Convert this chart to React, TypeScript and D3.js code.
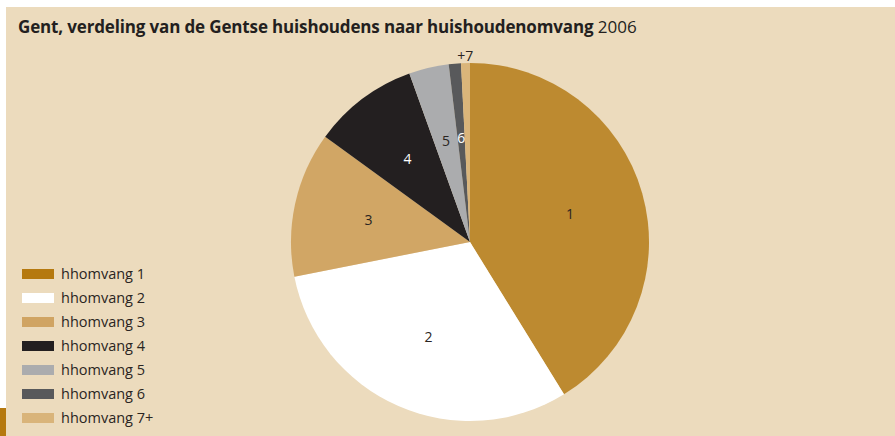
import React, { useEffect, useRef } from 'react'
import * as d3 from 'd3'

const categories = ['1', '2', '3', '4', '5', '6', '+7']
const shares = [41.2, 30.7, 13.1, 9.5, 3.6, 1.1, 0.8]
const legendLabels = ['hhomvang 1', 'hhomvang 2', 'hhomvang 3', 'hhomvang 4', 'hhomvang 5', 'hhomvang 6', 'hhomvang 7+']
const sliceColors = ['#bd8a30', '#ffffff', '#d1a665', '#231f20', '#abacae', '#58595b', '#dab57a']
const legendColors = ['#b5790f', '#ffffff', '#d0a463', '#231f20', '#abacae', '#58595b', '#d9b47a']
const labelColors = ['#2a2522', '#2a2522', '#2a2522', '#ffffff', '#2a2522', '#ffffff', '#2a2522']

const FONT = '"Open Sans", sans-serif'

const App = () => {
  const ref = useRef(null)

  useEffect(() => {
    const width = 895
    const height = 436
    const cx = 470
    const cy = 242
    const radius = 179

    const svg = d3.select(ref.current).attr('width', width).attr('height', height)
    svg.selectAll('*').remove()

    // background panel + gold marker
    svg.append('rect').attr('x', 6).attr('y', 7).attr('width', width - 6).attr('height', height - 7).attr('fill', '#ecdbbd')
    svg.append('rect').attr('x', 0).attr('y', 408).attr('width', 6).attr('height', 28).attr('fill', '#b5790f')

    const title = svg
      .append('text')
      .attr('x', 18)
      .attr('y', 33)
      .attr('font-family', FONT)
      .attr('font-size', 17)
      .attr('fill', '#231f20')
    title.append('tspan').attr('font-weight', 'bold').attr('letter-spacing', -0.15).text('Gent, verdeling van de Gentse huishoudens naar huishoudenomvang')
    title.append('tspan').attr('font-weight', 'normal').text(' 2006')

    const data = categories.map((c, i) => ({ cat: c, value: shares[i], i }))
    const pie = d3.pie().value((d) => d.value).sort(null)
    const arcs = pie(data)
    const arc = d3.arc().innerRadius(0).outerRadius(radius)
    const labelArc = d3.arc().innerRadius(104).outerRadius(104)
    const outerArc = d3.arc().innerRadius(186).outerRadius(186)

    const g = svg.append('g').attr('transform', `translate(${cx},${cy})`)
    g.selectAll('path')
      .data(arcs)
      .enter()
      .append('path')
      .attr('d', arc)
      .attr('fill', (d) => sliceColors[d.data.i])

    g.selectAll('text')
      .data(arcs)
      .enter()
      .append('text')
      .attr('transform', (d) => {
        const p = d.data.i === 6 ? outerArc.centroid(d) : labelArc.centroid(d)
        return `translate(${p[0]},${p[1]})`
      })
      .attr('text-anchor', 'middle')
      .attr('dy', '0.35em')
      .attr('font-family', FONT)
      .attr('font-size', 14)
      .attr('fill', (d) => labelColors[d.data.i])
      .text((d) => d.data.cat)

    // legend
    const legend = svg.append('g').attr('transform', 'translate(22,274)')
    const rows = legend
      .selectAll('g')
      .data(legendLabels)
      .enter()
      .append('g')
      .attr('transform', (d, i) => `translate(0,${i * 24})`)
    rows
      .append('rect')
      .attr('x', 0)
      .attr('y', -5)
      .attr('width', 32)
      .attr('height', 10)
      .attr('fill', (d, i) => legendColors[i])
    rows
      .append('text')
      .attr('x', 39)
      .attr('dy', '0.35em')
      .attr('font-family', FONT)
      .attr('font-size', 14.5)
      .attr('fill', '#2a2522')
      .text((d) => d)
  }, [])

  return (
    <div style={{ position: 'absolute', left: 0, top: 0 }}>
      <svg ref={ref} style={{ display: 'block' }}></svg>
    </div>
  )
}

export default App
